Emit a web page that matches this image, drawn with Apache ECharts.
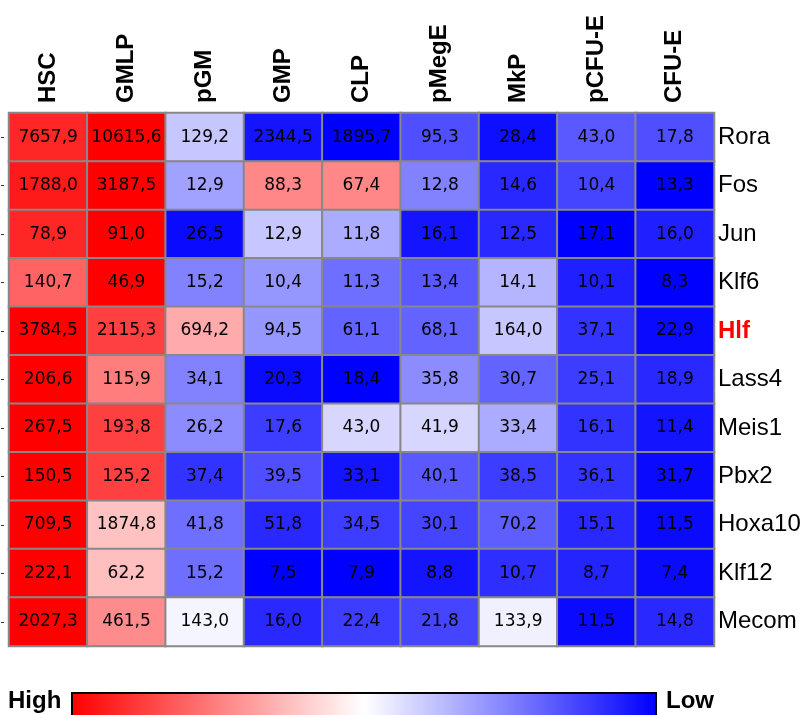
<!DOCTYPE html>
<html>
<head>
<meta charset="utf-8">
<script src="https://cdn.jsdelivr.net/npm/echarts@6/dist/echarts.min.js"></script>
<style>
  html, body { margin: 0; padding: 0; background: #fff; }
  #main { width: 809px; height: 715px; }
</style>
</head>
<body>
<div id="main"></div>
<script>
// columns (cell populations) and rows (genes)
var cellTypes = ['HSC', 'GMLP', 'pGM', 'GMP', 'CLP', 'pMegE', 'MkP', 'pCFU-E', 'CFU-E'];
var genes = ['Rora', 'Fos', 'Jun', 'Klf6', 'Hlf', 'Lass4', 'Meis1', 'Pbx2', 'Hoxa10', 'Klf12', 'Mecom'];

// expression values printed in the cells
var expr = [
  [7657.9, 10615.6, 129.2, 2344.5, 1895.7, 95.3, 28.4, 43.0, 17.8],
  [1788.0, 3187.5, 12.9, 88.3, 67.4, 12.8, 14.6, 10.4, 13.3],
  [78.9, 91.0, 26.5, 12.9, 11.8, 16.1, 12.5, 17.1, 16.0],
  [140.7, 46.9, 15.2, 10.4, 11.3, 13.4, 14.1, 10.1, 8.3],
  [3784.5, 2115.3, 694.2, 94.5, 61.1, 68.1, 164.0, 37.1, 22.9],
  [206.6, 115.9, 34.1, 20.3, 18.4, 35.8, 30.7, 25.1, 18.9],
  [267.5, 193.8, 26.2, 17.6, 43.0, 41.9, 33.4, 16.1, 11.4],
  [150.5, 125.2, 37.4, 39.5, 33.1, 40.1, 38.5, 36.1, 31.7],
  [709.5, 1874.8, 41.8, 51.8, 34.5, 30.1, 70.2, 15.1, 11.5],
  [222.1, 62.2, 15.2, 7.5, 7.9, 8.8, 10.7, 8.7, 7.4],
  [2027.3, 461.5, 143.0, 16.0, 22.4, 21.8, 133.9, 11.5, 14.8]
];

// relative level used for the cell colour (1 = high/red, -1 = low/blue)
var shade = [
  [0.85, 1.00, -0.22, -0.92, -1.00, -0.69, -0.94, -0.65, -0.69],
  [0.90, 1.00, -0.37, 0.47, 0.47, -0.49, -0.84, -0.73, -1.00],
  [0.85, 1.00, -0.96, -0.22, -0.33, -0.92, -0.84, -1.00, -0.88],
  [0.61, 1.00, -0.49, -0.41, -0.57, -0.65, -0.29, -0.88, -1.00],
  [1.00, 0.75, 0.33, -0.41, -0.61, -0.61, -0.22, -0.80, -0.96],
  [1.00, 0.51, -0.49, -0.96, -1.00, -0.45, -0.61, -0.76, -0.84],
  [1.00, 0.75, -0.45, -0.76, -0.16, -0.16, -0.33, -0.80, -0.92],
  [1.00, 0.75, -0.80, -0.69, -0.92, -0.65, -0.76, -0.80, -0.96],
  [1.00, 0.24, -0.57, -0.84, -0.76, -0.73, -0.63, -0.84, -0.96],
  [1.00, 0.25, -0.57, -1.00, -1.00, -0.92, -0.82, -0.86, -0.96],
  [1.00, 0.45, -0.04, -0.84, -0.76, -0.73, -0.06, -0.96, -0.84]
];

var legendEnds = ['High', 'Low'];
var highlightGene = 'Hlf';

var data = [];
for (var r = 0; r < genes.length; r++) {
  for (var c = 0; c < cellTypes.length; c++) {
    data.push([c, r, shade[r][c], expr[r][c]]);
  }
}

var boldFont = {
  fill: '#000',
  fontFamily: '"Liberation Sans", Arial, sans-serif',
  fontWeight: 'bold',
  fontSize: 24
};

var chartDom = document.getElementById('main');
var myChart = echarts.init(chartDom);
var option;

option = {
  animation: false,
  backgroundColor: '#fff',
  grid: {
    left: 9,
    right: 95,
    top: 113,
    bottom: 69
  },
  xAxis: {
    type: 'category',
    position: 'top',
    data: cellTypes,
    axisLine: { show: false },
    axisTick: { show: false },
    splitLine: { show: false },
    axisLabel: {
      rotate: -90,
      margin: 10,
      color: '#000',
      fontFamily: '"Liberation Sans", Arial, sans-serif',
      fontWeight: 'bold',
      fontSize: 24
    }
  },
  yAxis: [
    {
      type: 'category',
      position: 'right',
      inverse: true,
      data: genes,
      axisLine: { show: false },
      axisTick: { show: false },
      axisLabel: {
        margin: 4,
        color: '#000',
        fontFamily: '"Liberation Sans", Arial, sans-serif',
        fontSize: 24,
        formatter: function (v) {
          return v === highlightGene ? '{hi|' + v + '}' : v;
        },
        rich: {
          hi: {
            color: '#ff0000',
            fontWeight: 'bold',
            fontSize: 24,
            fontFamily: '"Liberation Sans", Arial, sans-serif'
          }
        }
      }
    },
    {
      // little tick marks on the left edge
      type: 'category',
      position: 'left',
      inverse: true,
      offset: 5,
      data: genes,
      axisLine: { show: false },
      axisTick: { show: true, alignWithLabel: true, length: 3, lineStyle: { color: '#333' } },
      axisLabel: { show: false }
    }
  ],
  visualMap: {
    type: 'continuous',
    min: -1,
    max: 1,
    dimension: 2,
    seriesIndex: 0,
    orient: 'horizontal',
    inverse: true,
    left: 72,
    top: 693,
    padding: 0,
    itemWidth: 26,
    itemHeight: 584,
    text: null,
    calculable: false,
    hoverLink: false,
    inRange: {
      color: ['#0000ff', '#ffffff', '#ff0000']
    }
  },
  graphic: [
    {
      type: 'rect',
      z: 100,
      shape: { x: 72, y: 693, width: 584, height: 26 },
      style: { fill: 'none', stroke: '#000', lineWidth: 2 }
    },
    {
      type: 'text',
      z: 100,
      left: 8,
      top: 689,
      style: Object.assign({ text: legendEnds[0] }, boldFont)
    },
    {
      type: 'text',
      z: 100,
      left: 666,
      top: 689,
      style: Object.assign({ text: legendEnds[1] }, boldFont)
    }
  ],
  series: [
    {
      type: 'heatmap',
      data: data,
      itemStyle: {
        borderColor: '#888',
        borderWidth: 2
      },
      label: {
        show: true,
        color: '#000',
        fontFamily: '"DejaVu Sans", sans-serif',
        fontSize: 17,
        formatter: function (p) {
          return p.data[3].toFixed(1).replace('.', ',');
        }
      },
      emphasis: { disabled: true }
    }
  ]
};

option && myChart.setOption(option);
</script>
</body>
</html>
